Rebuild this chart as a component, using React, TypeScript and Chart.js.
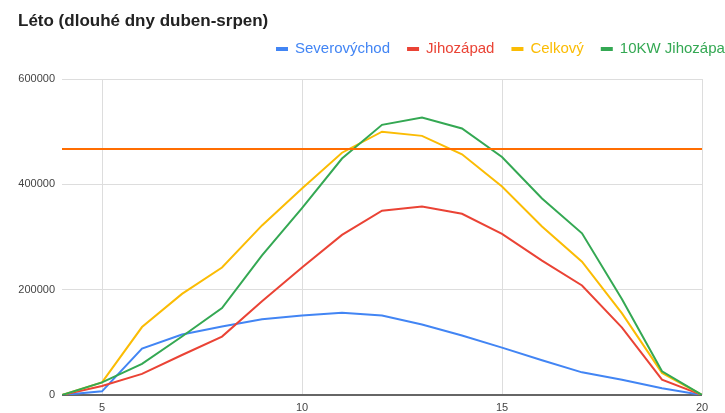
import React, { useEffect, useRef } from "react";
import { Chart, registerables } from "chart.js";

Chart.register(...registerables);

const TITLE = "Léto (dlouhé dny duben-srpen)";
const hours = [4, 5, 6, 7, 8, 9, 10, 11, 12, 13, 14, 15, 16, 17, 18, 19, 20];
const severovychod = [0, 7000, 88000, 115000, 130000, 144000, 151000, 156000, 151000, 134000, 113000, 90000, 66000, 43000, 29000, 13000, 0];
const jihozapad = [0, 17000, 40000, 76000, 111000, 178000, 242000, 304000, 350000, 358000, 344000, 306000, 255000, 208000, 128000, 29000, 0];
const celkovy = [0, 24000, 129000, 192000, 242000, 322000, 392000, 460000, 500000, 492000, 457000, 396000, 320000, 253000, 155000, 42000, 0];
const jihozapad10kw = [0, 24000, 59000, 111000, 165000, 265000, 355000, 449000, 513000, 527000, 506000, 452000, 373000, 307000, 182000, 45000, 0];
const limit = [467000, 467000, 467000, 467000, 467000, 467000, 467000, 467000, 467000, 467000, 467000, 467000, 467000, 467000, 467000, 467000, 467000];
const xTicks = [5, 10, 15, 20];
const yTicks = [0, 200000, 400000, 600000];

const seriesNames = ["Severovýchod", "Jihozápad", "Celkový", "10KW Jihozápad", "Limit"];
const seriesColors = ["#4285F4", "#EA4335", "#FBBC04", "#34A853", "#FF6D01"];
const seriesValues = [severovychod, jihozapad, celkovy, jihozapad10kw, limit];

const FONT = "'Liberation Sans', Arial, sans-serif";

const headerPlugin = {
  id: "header",
  afterDraw(chart: any) {
    const ctx = chart.ctx;
    ctx.save();
    ctx.fillStyle = "#222";
    ctx.font = `bold 17px ${FONT}`;
    ctx.textBaseline = "middle";
    ctx.textAlign = "left";
    ctx.fillText(TITLE, 18, 21);

    ctx.font = `15px ${FONT}`;
    let x = 276;
    const y = 49;
    chart.data.datasets.forEach((ds: any) => {
      ctx.fillStyle = ds.borderColor;
      ctx.fillRect(x, y - 2, 12, 4);
      x += 12 + 7;
      ctx.fillText(ds.label, x, y);
      x += ctx.measureText(ds.label).width + 17;
    });
    ctx.restore();
  },
};

export default function App() {
  const ref = useRef<HTMLCanvasElement | null>(null);

  useEffect(() => {
    document.body.style.margin = "0";
    const canvas = ref.current;
    if (!canvas) return;
    const datasets = seriesNames.map((name, i) => ({
      label: name,
      data: hours.map((h, j) => ({ x: h, y: seriesValues[i][j] })),
      borderColor: seriesColors[i],
      backgroundColor: seriesColors[i],
      borderWidth: 2,
      pointRadius: 0,
      pointHoverRadius: 0,
      tension: 0,
      fill: false,
      order: seriesNames.length - i,
    }));
    const chart = new Chart(canvas, {
      type: "line",
      data: { datasets },
      plugins: [headerPlugin],
      options: {
        responsive: false,
        animation: false,
        maintainAspectRatio: false,
        layout: { padding: { top: 79, right: 23, left: 0, bottom: 0 } },
        plugins: {
          legend: { display: false },
          title: { display: false },
          tooltip: { enabled: false },
        },
        scales: {
          x: {
            type: "linear",
            min: 4,
            max: 20,
            afterBuildTicks: (scale: any) => {
              scale.ticks = xTicks.map((v) => ({ value: v }));
            },
            afterFit: (scale: any) => {
              scale.height = 18;
            },
            grid: { color: "#dddddd", drawTicks: false, lineWidth: 1 },
            border: { display: false },
            ticks: {
              font: { family: FONT, size: 11 },
              color: "#444",
              padding: 6,
              maxRotation: 0,
            },
          },
          y: {
            type: "linear",
            min: 0,
            max: 600000,
            afterBuildTicks: (scale: any) => {
              scale.ticks = yTicks.map((v) => ({ value: v }));
            },
            afterFit: (scale: any) => {
              scale.width = 62;
            },
            grid: {
              color: (c: any) => (c.tick && c.tick.value === 0 ? "#666666" : "#dddddd"),
              lineWidth: (c: any) => (c.tick && c.tick.value === 0 ? 2 : 1),
              drawTicks: false,
            },
            border: { display: false },
            ticks: {
              font: { family: FONT, size: 11 },
              color: "#444",
              padding: 7,
              callback: (v: any) => String(v),
            },
          },
        },
      },
    });
    return () => chart.destroy();
  }, []);

  return (
    <div style={{ width: 725, height: 413, background: "#fff" }}>
      <canvas ref={ref} width={725} height={413} style={{ display: "block" }} />
    </div>
  );
}
